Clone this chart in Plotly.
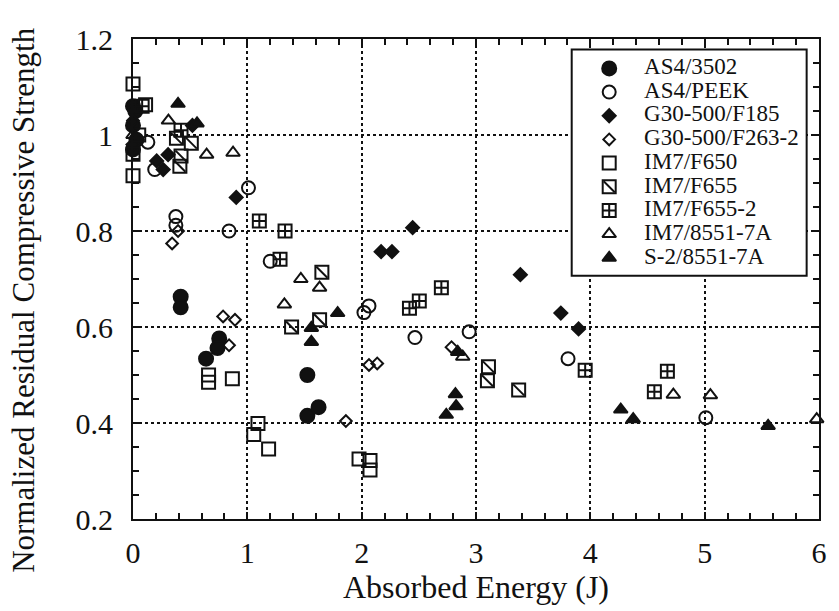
import plotly.graph_objects as go

# ---- data: absorbed energy (J) vs normalized residual compressive strength ----
as4_3502_x = [0.0, 0.02, 0.0, 0.03, 0.0, 0.417, 0.417, 0.754, 0.739, 0.639, 1.525, 1.525, 1.623]
as4_3502_y = [1.06, 1.05, 1.02, 0.99, 0.97, 0.663, 0.641, 0.576, 0.556, 0.534, 0.50, 0.415, 0.433]

as4_peek_x = [0.13, 0.19, 0.375, 0.375, 0.84, 1.01, 1.20, 2.02, 2.064, 2.466, 2.94, 3.805, 5.01]
as4_peek_y = [0.985, 0.928, 0.83, 0.812, 0.80, 0.89, 0.737, 0.63, 0.644, 0.578, 0.59, 0.534, 0.411]

g30_f185_x = [0.0, 0.207, 0.264, 0.307, 0.52, 0.903, 2.17, 2.265, 2.446, 3.388, 3.742, 3.897]
g30_f185_y = [0.98, 0.946, 0.928, 0.959, 1.02, 0.87, 0.757, 0.757, 0.807, 0.709, 0.629, 0.596]

g30_f263_x = [0.0, 0.394, 0.342, 0.788, 0.892, 0.84, 2.064, 2.136, 1.862, 2.786]
g30_f263_y = [1.03, 0.80, 0.774, 0.622, 0.615, 0.562, 0.521, 0.524, 0.404, 0.558]

im7_f650_x = [0.0, 0.0, 0.11, 0.0, 0.661, 0.661, 0.869, 1.093, 1.056, 1.186, 1.977, 2.073, 2.073]
im7_f650_y = [1.106, 0.915, 1.063, 0.96, 0.50, 0.485, 0.492, 0.399, 0.376, 0.346, 0.325, 0.322, 0.302]

im7_f655_x = [0.05, 0.38, 0.51, 0.42, 0.41, 1.387, 1.652, 1.632, 3.109, 3.10, 3.373]
im7_f655_y = [1.00, 0.993, 0.983, 0.956, 0.935, 0.60, 0.714, 0.615, 0.517, 0.488, 0.469]

im7_f6552_x = [0.08, 0.42, 1.105, 1.33, 1.286, 2.418, 2.504, 2.697, 3.955, 4.56, 4.674]
im7_f6552_y = [1.06, 1.01, 0.821, 0.80, 0.741, 0.639, 0.654, 0.682, 0.51, 0.465, 0.508]

im7_8551_x = [0.0, 0.31, 0.644, 0.875, 1.468, 1.324, 1.632, 2.884, 4.726, 5.05, 5.98]
im7_8551_y = [1.00, 1.03, 0.959, 0.963, 0.70, 0.647, 0.682, 0.538, 0.459, 0.458, 0.408]

s2_8551_x = [0.394, 0.56, 1.56, 1.56, 1.79, 2.84, 2.82, 2.826, 2.74, 4.266, 4.375, 5.555]
s2_8551_y = [1.065, 1.024, 0.598, 0.569, 0.629, 0.548, 0.46, 0.435, 0.417, 0.428, 0.408, 0.394]

series_names = ["AS4/3502", "AS4/PEEK", "G30-500/F185", "G30-500/F263-2", "IM7/F650",
                "IM7/F655", "IM7/F655-2", "IM7/8551-7A", "S-2/8551-7A"]

x_ticks = [0, 1, 2, 3, 4, 5, 6]
y_ticks = [0.2, 0.4, 0.6, 0.8, 1.0, 1.2]
y_tick_text = ["0.2", "0.4", "0.6", "0.8", "1", "1.2"]

# ---- marker styles (symbol, size); extra overlay symbol for the slashed square ----
styles = [
    dict(symbol="circle", size=14),
    dict(symbol="circle-open", size=13),
    dict(symbol="diamond", size=10),
    dict(symbol="diamond-open", size=9),
    dict(symbol="square-open", size=13),
    dict(symbol="square-open", size=13),
    dict(symbol="square-cross-open", size=13),
    dict(symbol="triangle-up-open", size=12),
    dict(symbol="triangle-up", size=12),
]
data_x = [as4_3502_x, as4_peek_x, g30_f185_x, g30_f263_x, im7_f650_x,
          im7_f655_x, im7_f6552_x, im7_8551_x, s2_8551_x]
data_y = [as4_3502_y, as4_peek_y, g30_f185_y, g30_f263_y, im7_f650_y,
          im7_f655_y, im7_f6552_y, im7_8551_y, s2_8551_y]

INK = "#111111"
FONT = "Liberation Serif"

fig = go.Figure()


def add_marks(xs, ys, st, name):
    fig.add_trace(go.Scatter(
        x=xs, y=ys, mode="markers", name=name, showlegend=False, cliponaxis=False,
        marker=dict(symbol=st["symbol"], size=st["size"], color=INK,
                    line=dict(color=INK, width=2)),
    ))
    if name == "IM7/F655":
        # diagonal stroke inside the square
        fig.add_trace(go.Scatter(
            x=xs, y=ys, mode="markers", showlegend=False, cliponaxis=False,
            marker=dict(symbol="line-nw", size=st["size"] - 2, color=INK,
                        line=dict(color=INK, width=2)),
        ))


for xs, ys, st, nm in zip(data_x, data_y, styles, series_names):
    add_marks(xs, ys, st, nm)

# ---- legend box (drawn in data coordinates, top right) ----
box_x0, box_x1, box_y0, box_y1 = 3.837, 5.892, 0.707, 1.178
fig.add_shape(type="rect", x0=box_x0, x1=box_x1, y0=box_y0, y1=box_y1,
              xref="x", yref="y", layer="between",
              fillcolor="white", line=dict(color=INK, width=2))

row_top, row_step = 1.1388, 0.04933
key_x, label_x = 4.165, 4.47
for i, (st, nm) in enumerate(zip(styles, series_names)):
    ry = row_top - i * row_step
    add_marks([key_x], [ry], st, nm)
    fig.add_trace(go.Scatter(
        x=[label_x], y=[ry], mode="text", text=[nm], textposition="middle right",
        showlegend=False, textfont=dict(family=FONT, size=23, color=INK),
    ))

axis_common = dict(
    showline=True, linecolor=INK, linewidth=2, mirror="ticks",
    ticks="inside", ticklen=7, tickwidth=1.5, tickcolor=INK,
    showgrid=True, gridcolor=INK, gridwidth=1.5, griddash="dot",
    zeroline=False, tickfont=dict(family=FONT, size=30, color=INK),
    title_font=dict(family=FONT, size=32, color=INK),
)

fig.update_xaxes(
    range=[0, 6], tickvals=x_ticks, ticktext=[str(v) for v in x_ticks],
    minor=dict(dtick=0.2, ticks="inside", ticklen=6, tickwidth=1.5, tickcolor=INK, showgrid=False),
    title_text="Absorbed Energy (J)", title_standoff=8, ticklabelstandoff=6,
    **axis_common,
)
fig.update_yaxes(
    range=[0.2, 1.2], tickvals=y_ticks, ticktext=y_tick_text,
    minor=dict(dtick=0.05, ticks="inside", ticklen=6, tickwidth=1.5, tickcolor=INK, showgrid=False),
    ticklabelstandoff=12,
    **axis_common,
)

# vertical axis title, placed in the left margin
fig.add_annotation(
    text="Normalized Residual Compressive Strength", textangle=-90,
    xref="paper", yref="paper", x=-0.16, y=0.455, xanchor="center", yanchor="middle",
    showarrow=False, font=dict(family=FONT, size=31, color=INK),
)

fig.update_layout(
    width=839, height=611,
    margin=dict(l=133, r=12, t=39, b=88),
    paper_bgcolor="white", plot_bgcolor="white",
    showlegend=False,
)

fig.write_html("out.html")
